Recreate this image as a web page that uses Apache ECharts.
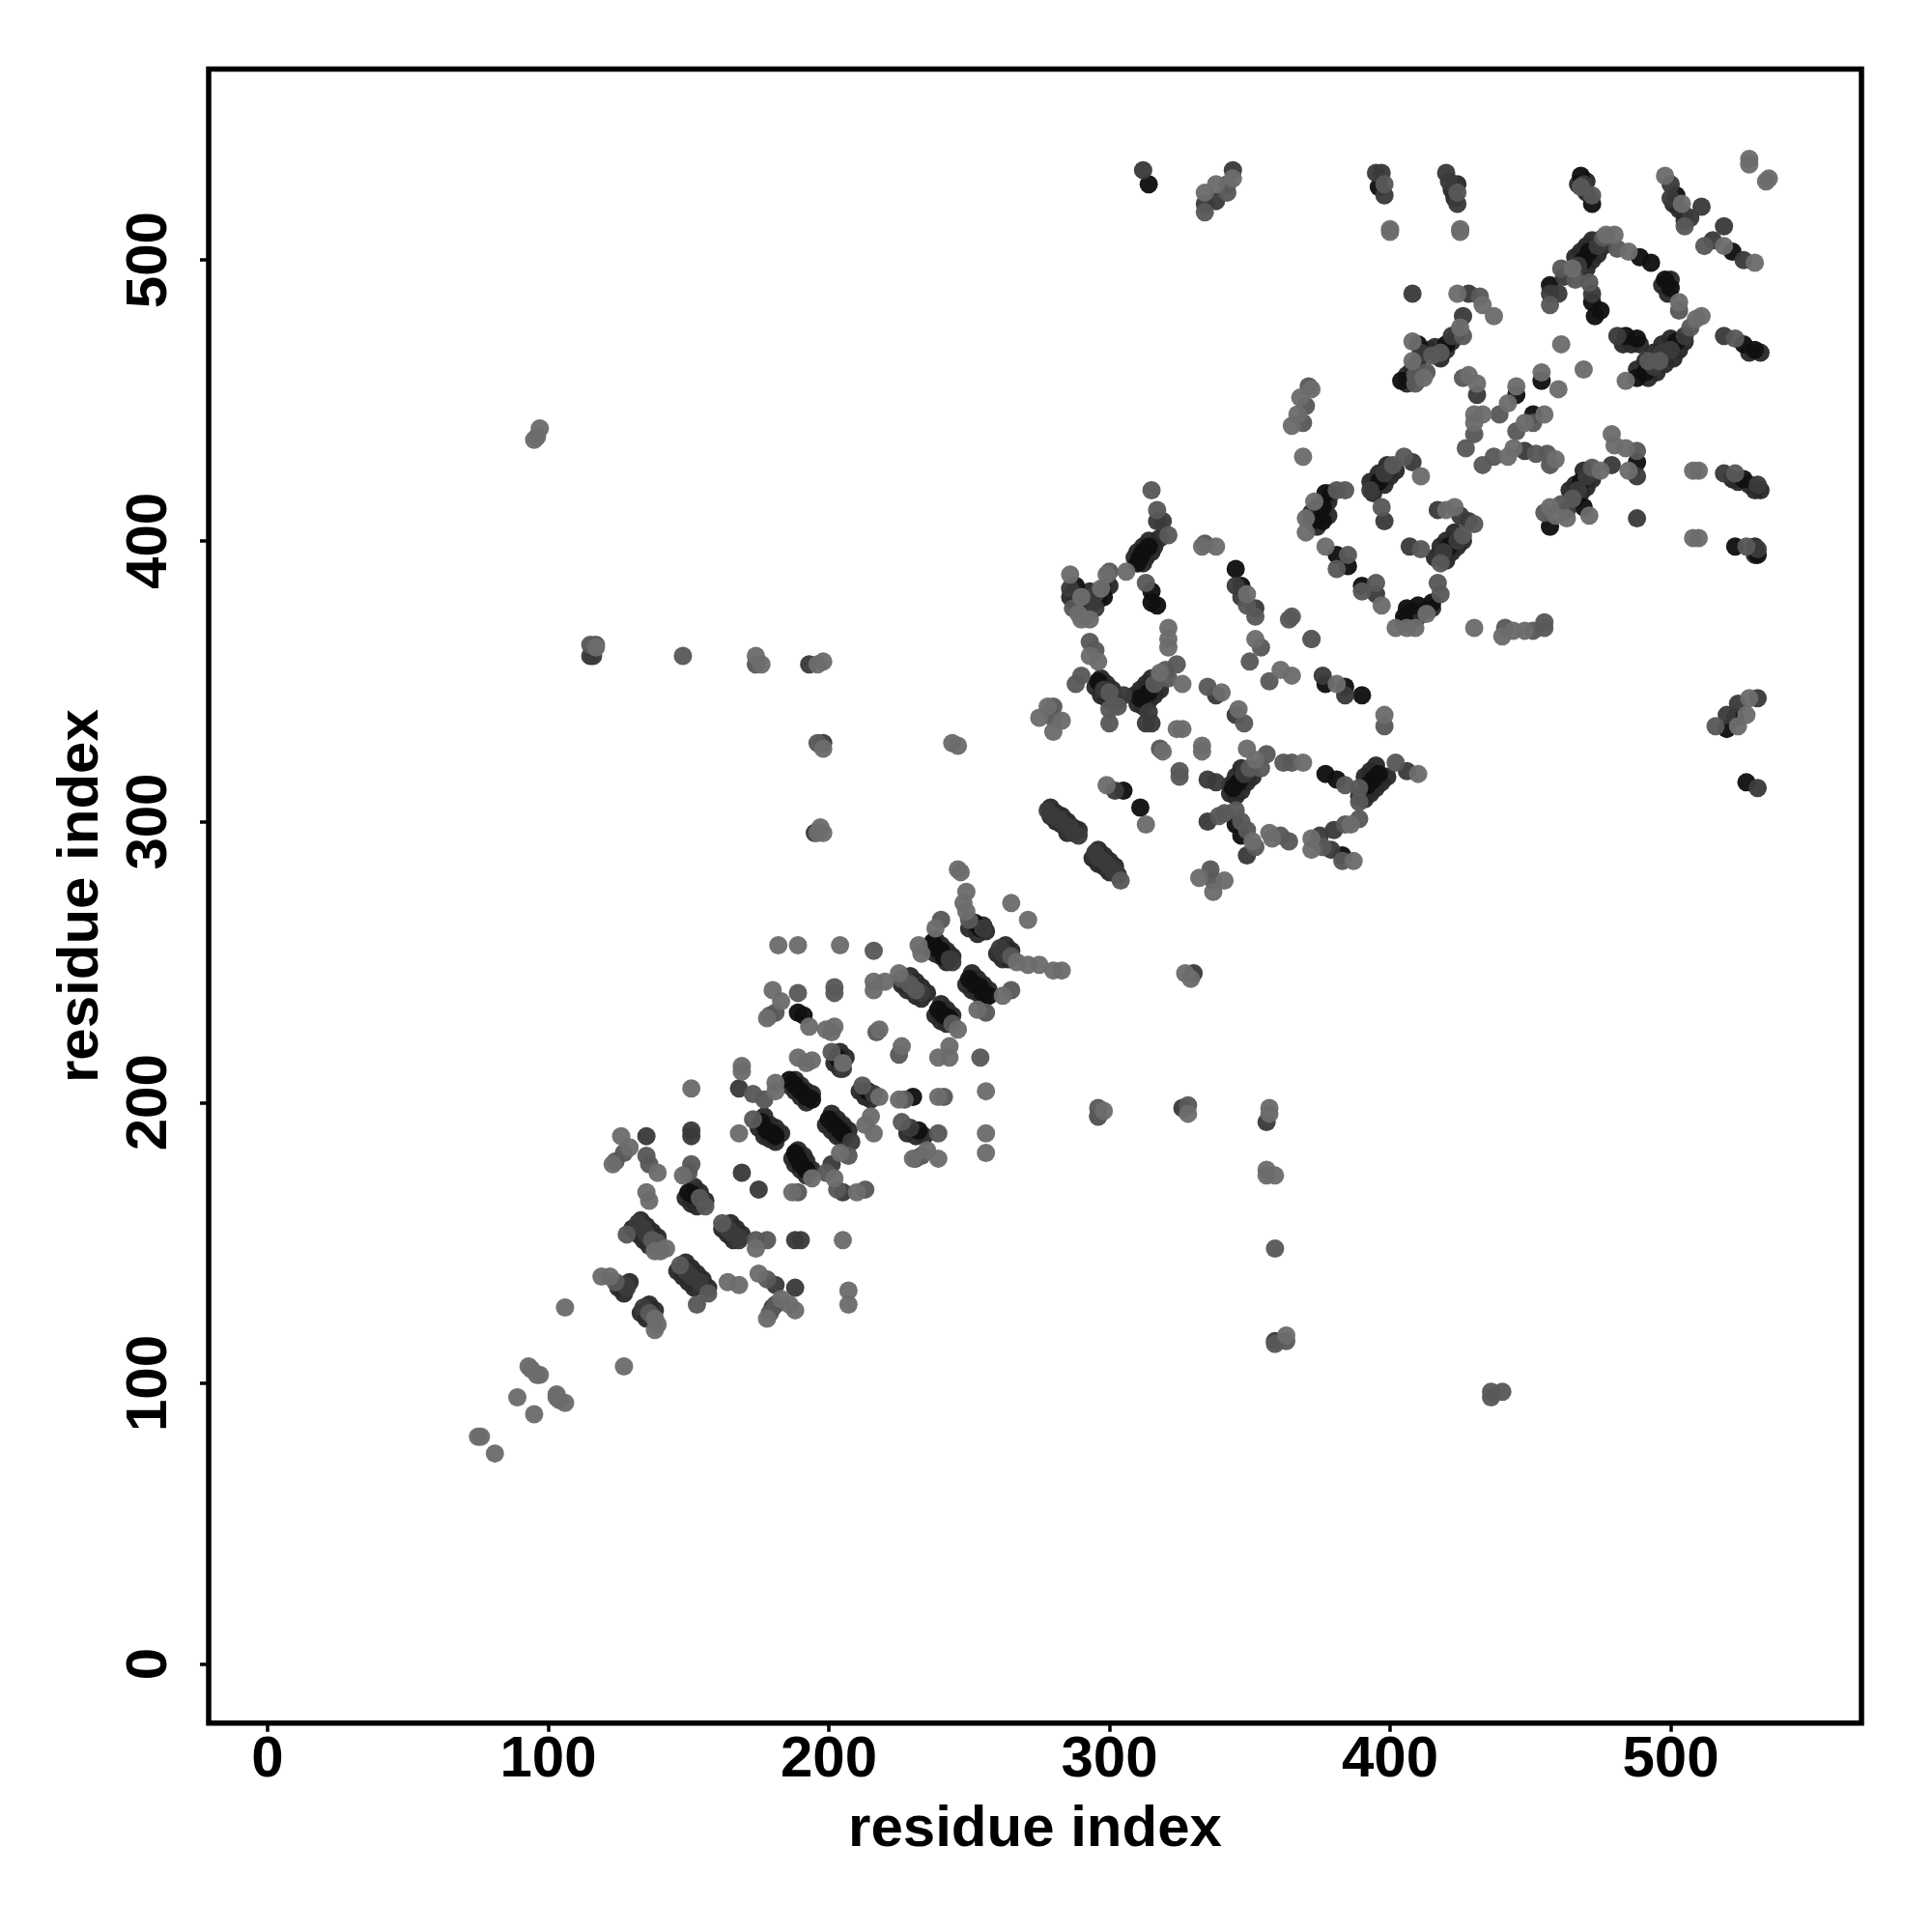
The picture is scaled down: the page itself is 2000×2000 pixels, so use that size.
<!DOCTYPE html>
<html><head><meta charset="utf-8">
<style>html,body{margin:0;padding:0;background:#fff}#c{width:2000px;height:2000px}</style>
<script src="https://cdn.jsdelivr.net/npm/echarts@6/dist/echarts.min.js"></script>
</head><body><div id="c"></div>
<script>
const tickValues = [0,100,200,300,400,500];
const axisTitle = "residue index";
const charcoalPts = [[236,255],[238,253],[240,252],[242,250],[238,258],[240,256],[242,254],[244,252],[249,242],[251,240],[253,239],[255,237],[251,246],[253,244],[255,242],[257,240],[238,231],[240,229],[242,228],[240,235],[242,233],[244,231],[186,206],[188,204],[190,202],[192,200],[188,208],[190,206],[192,204],[194,203],[199,192],[201,190],[203,188],[205,187],[201,196],[203,194],[205,192],[207,190],[187,180],[188,178],[190,176],[192,174],[189,183],[191,181],[192,179],[194,176],[175,191],[177,188],[179,187],[181,186],[177,195],[179,192],[181,191],[183,189],[202,214],[204,212],[204,218],[206,216],[211,204],[213,202],[215,201],[228,189],[231,188],[234,188],[250,262],[253,260],[255,263],[256,261],[260,253],[262,251],[264,251],[263,256],[265,254],[226,242],[228,240],[231,238],[233,237],[229,245],[231,243],[233,241],[235,239],[130,155],[132,153],[134,151],[136,149],[133,158],[135,156],[137,154],[139,152],[162,155],[164,153],[166,151],[165,157],[167,155],[169,153],[146,140],[148,138],[150,136],[152,134],[149,143],[151,141],[153,139],[155,137],[157,134],[149,166],[151,164],[153,163],[152,170],[154,168],[156,165],[125,134],[127,132],[129,136],[133,125],[135,123],[136,128],[138,126],[312,392],[313,394],[315,396],[316,398],[318,401],[309,394],[310,396],[312,398],[314,400],[295,348],[297,345],[299,344],[297,351],[299,349],[301,347],[310,342],[312,341],[314,343],[316,345],[318,347],[309,345],[311,347],[313,349],[315,351],[343,310],[345,309],[347,311],[349,314],[351,316],[343,313],[345,316],[347,319],[389,309],[391,308],[393,310],[395,312],[397,314],[399,316],[391,316],[393,318],[395,320],[286,380],[288,378],[290,376],[292,374],[293,377],[296,379],[298,383],[300,384],[293,382],[279,302],[281,300],[283,299],[285,296],[279,305],[281,303],[283,302],[285,300],[287,298],[289,297],[294,287],[296,285],[298,284],[300,282],[296,290],[298,288],[300,286],[302,284],[303,281],[470,497],[472,500],[474,502],[476,505],[468,503],[470,505],[466,501],[472,507],[505,471],[503,468],[501,465],[498,463],[495,460],[492,458],[500,472],[497,470],[494,467],[491,464],[488,461],[398,420],[400,423],[402,425],[394,417],[393,421],[396,424],[399,427],[412,375],[415,376],[410,373],[405,371],[408,375],[422,396],[424,398],[426,400],[420,393],[418,398],[420,400],[423,403],[416,394],[374,412],[374,408],[372,410],[374,405],[378,414],[379,417],[378,409],[418,465],[420,468],[422,471],[416,469],[414,468],[424,474],[466,415],[468,417],[470,419],[472,422],[464,418],[466,420],[469,425],[406,459],[408,461],[410,464],[406,456],[422,525],[423,522],[424,527],[467,527],[470,524],[470,528],[501,520],[503,518],[505,516],[505,514],[483,470],[486,470],[489,470],[499,488],[497,491],[500,493],[524,421],[528,420],[530,418],[522,422],[532,418],[530,398],[530,395],[528,467],[532,467]];
const blackPts = [[237,257],[238,255],[240,254],[241,252],[250,244],[252,242],[254,241],[255,239],[257,238],[239,233],[241,231],[243,230],[186,208],[188,206],[190,204],[192,202],[194,201],[203,216],[214,204],[230,202],[232,190],[176,193],[178,190],[180,189],[181,188],[200,194],[202,192],[204,190],[205,189],[188,182],[189,180],[190,178],[192,176],[189,232],[191,231],[252,264],[254,262],[150,168],[152,167],[314,398],[312,396],[311,394],[310,392],[298,380],[288,384],[315,382],[315,378],[317,377],[345,390],[347,384],[296,350],[311,344],[314,346],[377,349],[384,348],[390,345],[344,312],[346,314],[377,317],[381,315],[392,313],[394,315],[396,317],[383,288],[305,311],[311,305],[345,299],[347,295],[396,526],[468,530],[472,520],[502,523],[522,503],[471,503],[469,500],[457,491],[472,485],[475,482],[473,480],[489,501],[493,499],[498,493],[500,490],[502,471],[491,460],[488,458],[484,473],[488,472],[526,470],[530,468],[420,470],[410,470],[404,457],[445,452],[454,457],[451,445],[488,428],[468,421],[469,412],[457,405],[526,422],[523,398],[531,395],[396,421],[377,417],[376,412],[376,407],[372,407],[421,398],[381,395],[385,391],[390,384],[415,378],[410,377],[406,376],[405,373],[314,527],[527,314],[520,333],[523,337]];
const darkPts = [[243,251],[244,250],[261,255],[262,253],[263,253],[233,239],[228,243],[255,262],[168,205],[205,212],[216,203],[229,191],[208,186],[169,175],[175,169],[205,168],[201,178],[188,151],[190,151],[163,156],[166,153],[168,151],[181,135],[188,134],[135,188],[151,190],[151,188],[132,157],[134,155],[135,153],[164,155],[168,152],[149,140],[151,138],[154,136],[127,135],[128,134],[134,127],[180,127],[330,246],[296,195],[326,198],[356,193],[359,115],[115,359],[116,359],[193,356],[198,328],[195,296],[295,381],[295,376],[317,407],[319,407],[286,383],[345,384],[347,380],[352,376],[298,347],[303,343],[305,345],[314,339],[315,335],[313,335],[338,345],[345,338],[376,352],[384,345],[335,315],[338,314],[348,317],[406,318],[380,297],[375,295],[379,290],[349,288],[302,311],[335,300],[278,304],[280,302],[282,301],[284,299],[286,298],[287,296],[289,295],[295,289],[296,287],[298,286],[300,284],[302,282],[395,531],[397,531],[398,523],[420,531],[421,528],[424,520],[469,527],[500,527],[500,522],[511,519],[507,515],[519,512],[515,507],[526,500],[474,505],[467,498],[462,494],[457,488],[460,488],[472,488],[505,473],[500,468],[497,467],[494,462],[481,473],[519,473],[531,420],[519,424],[531,397],[408,488],[428,488],[426,480],[422,473],[411,467],[431,452],[448,432],[470,423],[467,418],[463,411],[479,427],[488,423],[488,408],[408,428],[398,424],[393,418],[398,407],[417,411],[425,409],[428,407],[424,400],[419,396],[407,398],[395,381],[531,344],[520,338],[531,312],[312,532],[344,532],[338,521],[334,520],[524,342]];
const midPts = [[216,254],[240,265],[250,265],[265,252],[226,244],[229,242],[231,240],[244,228],[254,216],[239,189],[241,202],[265,240],[256,232],[177,201],[173,203],[212,206],[201,218],[227,201],[226,193],[173,194],[189,168],[207,181],[199,175],[203,169],[213,169],[231,180],[233,181],[296,195],[174,151],[178,151],[178,137],[181,232],[179,231],[189,239],[202,241],[202,239],[217,225],[225,217],[124,179],[127,182],[135,181],[136,178],[151,178],[150,175],[154,166],[156,163],[128,153],[137,151],[139,150],[162,157],[147,142],[157,132],[153,128],[124,136],[136,125],[179,125],[181,128],[296,198],[328,199],[359,148],[363,115],[359,114],[436,97],[436,95],[440,97],[117,363],[115,363],[148,359],[174,356],[196,328],[315,418],[317,411],[321,402],[300,389],[287,376],[313,385],[349,377],[352,373],[365,373],[364,372],[372,365],[354,362],[350,357],[334,399],[293,364],[295,361],[288,349],[290,352],[300,346],[300,340],[300,335],[303,341],[316,349],[320,354],[324,356],[321,351],[280,341],[280,337],[335,348],[348,335],[357,350],[398,334],[318,326],[325,318],[325,316],[350,319],[354,319],[356,324],[362,321],[365,321],[402,321],[384,313],[389,312],[389,307],[389,301],[384,299],[376,291],[383,286],[339,302],[341,303],[345,304],[347,300],[349,297],[352,291],[361,295],[364,293],[304,279],[336,283],[337,279],[398,527],[424,524],[472,523],[468,526],[505,512],[512,505],[476,508],[461,497],[466,493],[471,492],[481,504],[503,482],[507,476],[496,464],[492,464],[457,484],[523,472],[432,487],[426,473],[418,467],[415,466],[409,459],[413,460],[409,456],[426,458],[430,438],[427,433],[439,445],[451,442],[445,439],[437,430],[433,427],[452,431],[456,431],[457,427],[488,432],[472,426],[461,413],[465,415],[455,410],[523,424],[527,398],[405,430],[401,427],[397,412],[384,418],[381,418],[430,406],[426,402],[418,392],[411,397],[385,395],[381,390],[395,385],[390,382],[417,385],[418,381],[441,369],[451,368],[455,371],[455,369],[372,365],[371,455],[370,448],[369,442],[516,334],[342,527],[342,524],[334,517]];
const lightPts = [[182,256],[189,256],[204,256],[265,271],[271,265],[238,262],[246,283],[247,282],[249,275],[248,271],[249,268],[232,256],[233,253],[267,250],[271,249],[275,249],[280,247],[283,247],[225,246],[216,240],[216,243],[220,243],[262,238],[253,233],[246,226],[243,220],[239,216],[243,216],[256,204],[256,189],[256,182],[239,202],[169,213],[169,211],[181,207],[181,204],[189,216],[192,214],[194,215],[205,214],[218,202],[225,201],[215,195],[213,192],[216,189],[168,189],[194,173],[187,168],[204,182],[202,173],[210,168],[230,180],[235,183],[239,180],[298,197],[205,151],[174,148],[164,136],[168,135],[175,139],[207,133],[207,128],[180,240],[183,236],[178,230],[193,227],[199,226],[202,227],[201,225],[218,226],[226,220],[126,188],[129,184],[123,178],[139,175],[135,168],[136,165],[151,205],[148,174],[142,148],[138,147],[140,147],[119,138],[122,138],[138,123],[139,121],[138,119],[106,127],[127,106],[183,130],[186,128],[188,126],[178,123],[93,106],[94,105],[96,103],[97,103],[106,93],[104,94],[103,96],[103,95],[89,95],[95,89],[75,81],[76,81],[81,75],[327,246],[329,244],[328,196],[357,196],[357,198],[356,176],[356,174],[359,174],[363,117],[97,440],[96,437],[95,436],[117,362],[174,359],[176,356],[196,356],[198,357],[198,326],[197,298],[198,296],[196,296],[244,328],[246,327],[286,388],[299,388],[297,383],[306,389],[290,380],[289,374],[293,372],[290,372],[338,398],[333,398],[349,381],[352,365],[321,369],[321,365],[321,362],[296,357],[293,359],[318,353],[326,349],[340,346],[346,340],[278,341],[275,337],[283,336],[280,332],[361,354],[365,352],[381,349],[398,338],[326,333],[324,333],[333,327],[333,325],[319,325],[349,326],[352,322],[369,321],[410,317],[386,299],[372,294],[372,290],[387,286],[299,313],[313,299],[351,293],[357,296],[358,294],[332,280],[341,279],[337,275],[400,511],[400,510],[425,511],[425,510],[498,530],[504,520],[519,505],[530,499],[528,536],[528,534],[535,529],[534,528],[480,509],[477,509],[465,497],[485,503],[503,485],[509,479],[511,480],[484,457],[424,488],[433,484],[437,480],[425,476],[408,471],[408,464],[412,458],[428,459],[431,456],[430,445],[430,442],[433,445],[442,449],[445,455],[454,460],[460,454],[461,470],[469,461],[455,445],[448,442],[444,433],[442,430],[459,429],[479,438],[480,434],[484,433],[485,425],[475,425],[457,412],[471,409],[463,408],[459,409],[510,425],[508,425],[510,401],[508,401],[411,423],[370,408],[370,403],[373,414],[420,411],[423,412],[377,398],[397,377],[413,374],[402,369],[406,369],[409,369],[430,369],[440,366],[444,368],[448,368],[369,430],[372,454],[368,451],[367,445],[365,441],[524,334],[527,338],[528,344],[338,527],[344,529],[334,524]];
const shades = ["#2a2a2a","#101010","#3a3a3a","#585858","#6c6c6c"];
const groups = [charcoalPts, blackPts, darkPts, midPts, lightPts];
const font = '"Liberation Sans", Arial, sans-serif';
function axis(extra){
  return Object.assign({
    type:'value', min:-21, max:568,
    name:axisTitle, nameLocation:'middle',
    nameTextStyle:{fontFamily:font,fontWeight:'bold',fontSize:60,color:'#000'},
    splitLine:{show:false},
    axisLine:{show:false,onZero:false}
  },extra);
}
const chart = echarts.init(document.getElementById('c'),null,{renderer:'canvas'});
chart.setOption({
  animation:false,
  backgroundColor:'#fff',
  grid:{show:true,left:216,right:73,top:71.5,bottom:216.3,borderColor:'#000',borderWidth:5.5,backgroundColor:'transparent'},
  xAxis:axis({nameGap:81,
    axisTick:{show:true,length:9,lineStyle:{width:3.5,color:'#000'},customValues:tickValues},
    axisLabel:{show:true,fontFamily:font,fontWeight:'bold',fontSize:60,color:'#000',margin:9,customValues:tickValues}}),
  yAxis:axis({nameGap:102,
    axisTick:{show:true,length:9,lineStyle:{width:3.5,color:'#000'},customValues:tickValues},
    axisLabel:{show:true,rotate:90,fontFamily:font,fontWeight:'bold',fontSize:60,color:'#000',margin:31,customValues:tickValues,align:'center',verticalAlign:'bottom'}}),
  series:groups.map(function(g,i){return {type:'scatter',data:g,symbol:'circle',symbolSize:19,itemStyle:{color:shades[i],opacity:0.96},silent:true,z:2+i};})
});
</script></body></html>
